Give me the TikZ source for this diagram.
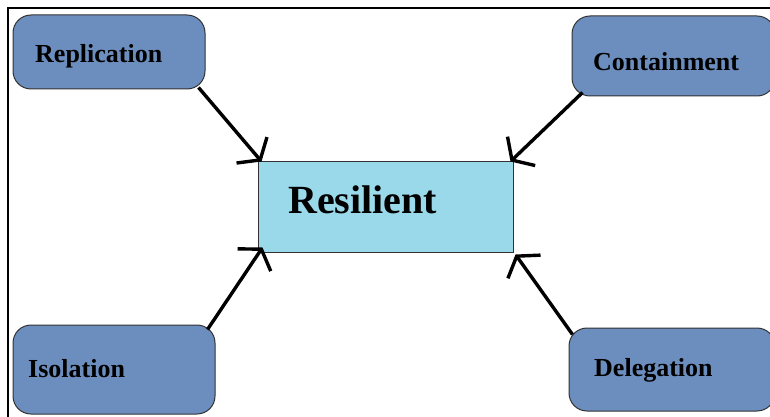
\documentclass[tikz,border=0pt]{standalone}
\usepackage{fontspec}
\setmainfont{Liberation Serif}
\usetikzlibrary{arrows.meta}

\definecolor{rsblue}{RGB}{108, 142, 191}
\definecolor{rscyan}{RGB}{153, 217, 234}
\definecolor{rsedge}{RGB}{50, 50, 50}

\begin{document}
\begin{tikzpicture}[
    x=1pt, y=-1pt,
    part/.style={draw=rsedge, line width=1pt, fill=rsblue, rounded corners=18pt,
      inner sep=0pt},
    core/.style={draw=rsedge, line width=1pt, fill=rscyan, inner sep=0pt},
    lbl/.style={anchor=base west, inner sep=0pt, font=\fontsize{26}{29}\selectfont\bfseries},
    link/.style={line width=3.4pt, -{Straight Barb[length=13pt, width=40pt]}},
  ]
    \useasboundingbox (0, 0) rectangle (770, 417);
    \clip (0, 0) rectangle (770, 417);

    % --- frame (only top and left edges are in view) ---
    \draw[line width=2pt] (8, 430) |- (790, 8);

    % --- centre block ---
    \node[core, minimum width=255pt, minimum height=91pt] (res) at (385.5, 206.5) {};
    \node[lbl, font=\fontsize{40}{44}\selectfont\bfseries] (res-t) at (288, 213) {Resilient};

    % --- the four parts around it ---
    \node[part, minimum width=192pt, minimum height=74pt] (repl) at (109, 52) {};
    \node[part, minimum width=203pt, minimum height=80pt] (cont) at (673.5, 56) {};
    \node[part, minimum width=202pt, minimum height=89pt] (isol) at (114, 369.5) {};
    \node[part, minimum width=206pt, minimum height=83pt] (dele) at (672, 369.5) {};

    \node[lbl] (repl-t) at (35, 63) {Replication};
    \node[lbl] (cont-t) at (593, 71) {Containment};
    \node[lbl] (isol-t) at (28, 377) {Isolation};
    \node[lbl] (dele-t) at (594, 376) {Delegation};

    % --- arrows into the corners of the centre block ---
    \draw[link] ([shift={(-7,-2)}]repl.south east) -- ([shift={(4,1)}]res.north west);
    \draw[link] ([shift={(11,-4)}]cont.south west) -- ([shift={(-3,1)}]res.north east);
    \draw[link] ([shift={(-8,5)}]isol.north east) -- ([shift={(5,-5)}]res.south west);
    \draw[link] ([shift={(4,7)}]dele.north west) -- ([shift={(2,2)}]res.south east);
  \end{tikzpicture}
\end{document}
